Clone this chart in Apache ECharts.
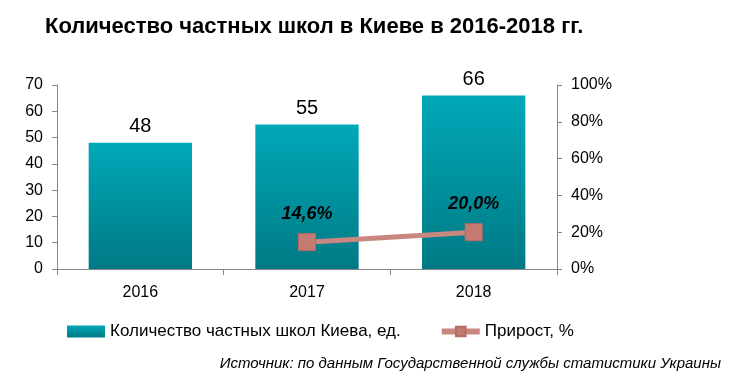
<!DOCTYPE html>
<html><head><meta charset="utf-8">
<script src="https://cdn.jsdelivr.net/npm/echarts@6/dist/echarts.min.js"></script>
<style>html,body{margin:0;padding:0;background:#fff}#c{width:729px;height:380px}</style>
</head><body><div id="c"></div>
<script>
var categories = ['2016', '2017', '2018'];
var schools = [48, 55, 66];
var growth = [null, 14.6, 20.0];
var leftTicks = [0, 70, 10];
var rightTicks = [0, 100, 20];

var chart = echarts.init(document.getElementById('c'));
var sans = '"Liberation Sans", Arial, sans-serif';
chart.setOption({
  animation: false,
  title: {
    text: 'Количество частных школ в Киеве в 2016-2018 гг.',
    left: 40, top: 11,
    textStyle: {fontFamily: sans, fontWeight: 'bold', fontSize: 22, color: '#000'}
  },
  grid: {left: 57, right: 172, top: 85, bottom: 111},
  legend: {
    left: 62, top: 318, itemGap: 38, itemWidth: 38, itemHeight: 12,
    textStyle: {fontFamily: sans, fontSize: 17, color: '#000'},
    data: [
      {name: 'Количество частных школ Киева, ед.', icon: 'rect'},
      {name: 'Прирост, %', lineStyle: {width: 6, color: '#C8877F'}}
    ]
  },
  graphic: [{
    type: 'text', right: 8, top: 356,
    style: {text: 'Источник: по данным Государственной службы статистики Украины',
      fontFamily: sans, fontStyle: 'italic', fontSize: 15, fill: '#000'}
  }],
  xAxis: {
    type: 'category', data: categories,
    axisLine: {lineStyle: {color: '#868686'}},
    axisTick: {show: true, alignWithLabel: false, length: 6, lineStyle: {color: '#868686'}},
    axisLabel: {fontFamily: sans, fontSize: 16, color: '#000', margin: 16}
  },
  yAxis: [{
    type: 'value', min: leftTicks[0], max: leftTicks[1], interval: leftTicks[2],
    axisLine: {show: true, lineStyle: {color: '#868686'}},
    axisTick: {show: true, lineStyle: {color: '#868686'}},
    splitLine: {show: false},
    axisLabel: {fontFamily: sans, fontSize: 16, color: '#000', margin: 14}
  }, {
    type: 'value', min: rightTicks[0], max: rightTicks[1], interval: rightTicks[2],
    axisLine: {show: true, lineStyle: {color: '#868686'}},
    axisTick: {show: true, lineStyle: {color: '#868686'}},
    splitLine: {show: false},
    axisLabel: {fontFamily: sans, fontSize: 16, color: '#000', margin: 14, formatter: '{value}%'}
  }],
  series: [{
    name: 'Количество частных школ Киева, ед.',
    type: 'bar', data: schools, barWidth: '62%',
    itemStyle: {color: new echarts.graphic.LinearGradient(0, 0, 0, 1, [
      {offset: 0, color: '#00A8B8'}, {offset: 1, color: '#007A85'}])},
    label: {show: true, position: 'top', distance: 6, fontFamily: sans, fontSize: 20, color: '#000'}
  }, {
    name: 'Прирост, %',
    type: 'line', yAxisIndex: 1, data: growth,
    symbol: 'rect', symbolSize: 17,
    lineStyle: {color: '#C8877F', width: 5},
    itemStyle: {color: '#C47A71', borderColor: '#B86A62', borderWidth: 1},
    label: {show: true, position: 'top', distance: 10, fontFamily: sans, fontSize: 18,
      fontWeight: 'bold', fontStyle: 'italic', color: '#000',
      formatter: function(p){ return p.value.toFixed(1).replace('.', ',') + '%'; }}
  }]
});
</script></body></html>
